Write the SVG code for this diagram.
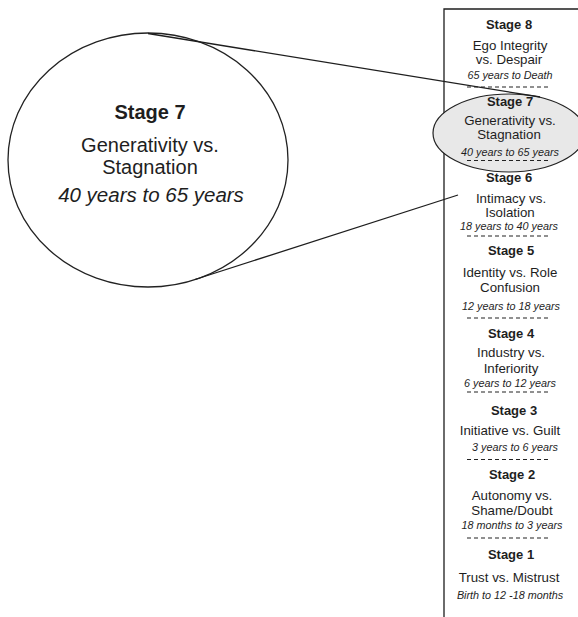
<svg xmlns="http://www.w3.org/2000/svg" width="578" height="617" viewBox="0 0 578 617">
<style>
text{font-family:"Liberation Sans",Arial,sans-serif;fill:#1e1e1e;text-anchor:middle}
.b{font-weight:bold;font-size:13px}
.n{font-size:13.3px}
.i{font-style:italic;font-size:10.8px}
.B{font-weight:bold;font-size:20px}
.N{font-size:20px}
.I{font-style:italic;font-size:20.5px}
.d{stroke:#222;stroke-width:1.2;stroke-dasharray:4 3;fill:none}
.ln{stroke:#1e1e1e;stroke-width:1.3;fill:none}
</style>
<rect width="578" height="617" fill="#fff"/>
<g id="column">
<path class="ln" d="M444 617 V9 H580"/>
</g>
<g id="stage7-small">
<ellipse cx="509" cy="133" rx="76" ry="39" fill="#e8e8e8" stroke="#222" stroke-width="1.2"/>
</g>
<g id="big-ellipse">
<ellipse cx="148" cy="160" rx="140" ry="127" fill="#fff" stroke="#222" stroke-width="1.3"/>
<text class="B" x="150" y="119">Stage 7</text>
<text class="N" x="150" y="152">Generativity vs.</text>
<text class="N" x="150" y="174">Stagnation</text>
<text class="I" x="151" y="202">40 years to 65 years</text>
</g>
<g id="connectors">
<line class="ln" x1="148" y1="33.5" x2="540" y2="97"/>
<line class="ln" x1="195" y1="279.5" x2="458" y2="195"/>
</g>
<g id="stages">
<g id="stage8">
<text class="b" x="509" y="29">Stage 8</text>
<text class="n" x="510" y="50">Ego Integrity</text>
<text class="n" x="509" y="64">vs. Despair</text>
<text class="i" x="510" y="79">65 years to Death</text>
<line class="d" x1="467" y1="87" x2="551" y2="87"/>
</g>
<g id="stage7">
<text class="b" x="510" y="106">Stage 7</text>
<text class="n" x="510" y="125">Generativity vs.</text>
<text class="n" x="509" y="139">Stagnation</text>
<text class="i" x="510" y="156">40 years to 65 years</text>
<line class="d" x1="467" y1="160.5" x2="551" y2="160.5"/>
</g>
<g id="stage6">
<text class="b" x="509" y="182">Stage 6</text>
<text class="n" x="511" y="203">Intimacy vs.</text>
<text class="n" x="510" y="217">Isolation</text>
<text class="i" x="509" y="229.5">18 years to 40 years</text>
<line class="d" x1="467" y1="236" x2="551" y2="236"/>
</g>
<g id="stage5">
<text class="b" x="511" y="255">Stage 5</text>
<text class="n" x="510" y="277">Identity vs. Role</text>
<text class="n" x="510" y="292">Confusion</text>
<text class="i" x="511" y="310">12 years to 18 years</text>
<line class="d" x1="467" y1="318" x2="551" y2="318"/>
</g>
<g id="stage4">
<text class="b" x="511" y="338">Stage 4</text>
<text class="n" x="511" y="357">Industry vs.</text>
<text class="n" x="511" y="373">Inferiority</text>
<text class="i" x="510" y="387">6 years to 12 years</text>
<line class="d" x1="467" y1="392" x2="551" y2="392"/>
</g>
<g id="stage3">
<text class="b" x="514" y="415">Stage 3</text>
<text class="n" x="510" y="435">Initiative vs. Guilt</text>
<text class="i" x="515" y="451">3 years to 6 years</text>
<line class="d" x1="467" y1="459.5" x2="551" y2="459.5"/>
</g>
<g id="stage2">
<text class="b" x="512" y="479">Stage 2</text>
<text class="n" x="512" y="500">Autonomy vs.</text>
<text class="n" x="512" y="515">Shame/Doubt</text>
<text class="i" x="512" y="529">18 months to 3 years</text>
<line class="d" x1="467" y1="538" x2="551" y2="538"/>
</g>
<g id="stage1">
<text class="b" x="511" y="559">Stage 1</text>
<text class="n" x="509" y="582">Trust vs. Mistrust</text>
<text class="i" x="510" y="599">Birth to 12 -18 months</text>
</g>
</g>
</svg>
